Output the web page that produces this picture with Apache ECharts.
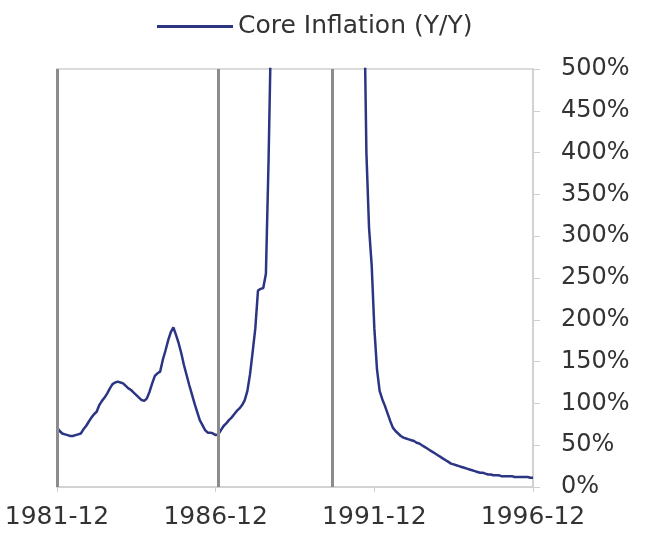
<!DOCTYPE html>
<html>
<head>
<meta charset="utf-8">
<script src="https://cdn.jsdelivr.net/npm/echarts@6/dist/echarts.min.js"></script>
<style>html,body{margin:0;padding:0;background:#fff;}#c{width:648px;height:546px;}</style>
</head>
<body>
<div id="c"></div>
<script>
// Months from 1981-12 to 1996-12
const months = [];
for (let y = 1981, m = 12; ; ) {
  months.push(y + '-' + String(m).padStart(2, '0'));
  if (y === 1996 && m === 12) break;
  m++; if (m > 12) { m = 1; y++; }
}
const seriesName = 'Core Inflation (Y/Y)';
// Y/Y core inflation, % (values above 500% run off the chart)
const coreInflation = [
  71, 67, 64, 63, 62, 61, 61, 62, 63, 64,
  69, 73, 78, 83, 87, 90, 98, 103, 107, 112,
  118, 123, 125, 126, 125, 124, 121, 118, 116, 113,
  110, 107, 104, 103, 106, 114, 124, 133, 136, 138,
  152, 163, 175, 185, 191, 182, 172, 160, 146, 134,
  122, 111, 100, 90, 80, 74, 68, 65, 65, 64,
  62, 63, 68, 73, 76, 80, 83, 87, 91, 94,
  98, 104, 115, 135, 162, 190, 235, 237, 238, 255,
  390, 560, 700, 900, 1100, 1400, 1800, 2300, 2900, 3600,
  4500, 5500, 6500, 7500, 7600, 7000, 6000, 5000, 4000, 3200,
  2600, 2100, 1700, 1400, 1200, 1050, 950, 880, 820, 770,
  720, 680, 650, 620, 600, 580, 620, 400, 310, 265,
  190, 141, 115, 105, 97, 88, 79, 71, 67, 64,
  61, 59, 58, 57, 56, 55, 53, 52, 50, 48,
  46, 44, 42, 40, 38, 36, 34, 32, 30, 28,
  27, 26, 25, 24, 23, 22, 21, 20, 19, 18,
  17, 17, 16, 15, 15, 14, 14, 14, 13, 13,
  13, 13, 13, 12, 12, 12, 12, 12, 12, 11,
  11
];
const markerMonths = ['1981-12', '1987-01', '1990-08'];
const xTickLabels = ['1981-12', '1986-12', '1991-12', '1996-12'];

const font = 'DejaVu Sans';
const chart = echarts.init(document.getElementById('c'), null, {renderer: 'canvas'});
chart.setOption({
  animation: false,
  backgroundColor: '#fff',
  legend: {
    data: [seriesName],
    left: 152, top: 9,
    icon: 'rect', itemWidth: 76, itemHeight: 3, itemGap: 10,
    textStyle: {fontFamily: font, fontSize: 25, color: '#333'}
  },
  grid: {
    left: 57, right: 115, top: 69, bottom: 59,
    show: true, borderColor: '#cfcfcf', borderWidth: 1.5, backgroundColor: 'transparent'
  },
  xAxis: {
    type: 'category',
    data: months,
    boundaryGap: false,
    axisLine: {show: true, lineStyle: {color: '#cfcfcf', width: 1.5}},
    axisTick: {show: true, interval: (i, v) => xTickLabels.includes(v), length: 5, lineStyle: {color: '#cfcfcf'}},
    axisLabel: {
      interval: (i, v) => xTickLabels.includes(v),
      margin: 18,
      fontFamily: font, fontSize: 25, color: '#333',
      showMaxLabel: true
    },
    splitLine: {show: false}
  },
  yAxis: {
    type: 'value',
    position: 'right',
    min: 0, max: 500, interval: 50,
    axisLine: {show: true, lineStyle: {color: '#cfcfcf', width: 1.5}},
    axisTick: {show: true, length: 7, lineStyle: {color: '#cfcfcf'}},
    axisLabel: {margin: 28, fontFamily: font, fontSize: 24, color: '#333', formatter: v => v + '%'},
    splitLine: {show: false}
  },
  series: [{
    name: seriesName,
    type: 'line',
    data: coreInflation,
    showSymbol: false,
    clip: true,
    lineStyle: {color: '#2b3583', width: 2.5},
    itemStyle: {color: '#2b3583'},
    markLine: {
      silent: true,
      symbol: ['none', 'none'],
      label: {show: false},
      lineStyle: {color: '#8c8c8c', width: 3, type: 'solid'},
      data: markerMonths.map(m => ({xAxis: m}))
    }
  }]
});
</script>
</body>
</html>
